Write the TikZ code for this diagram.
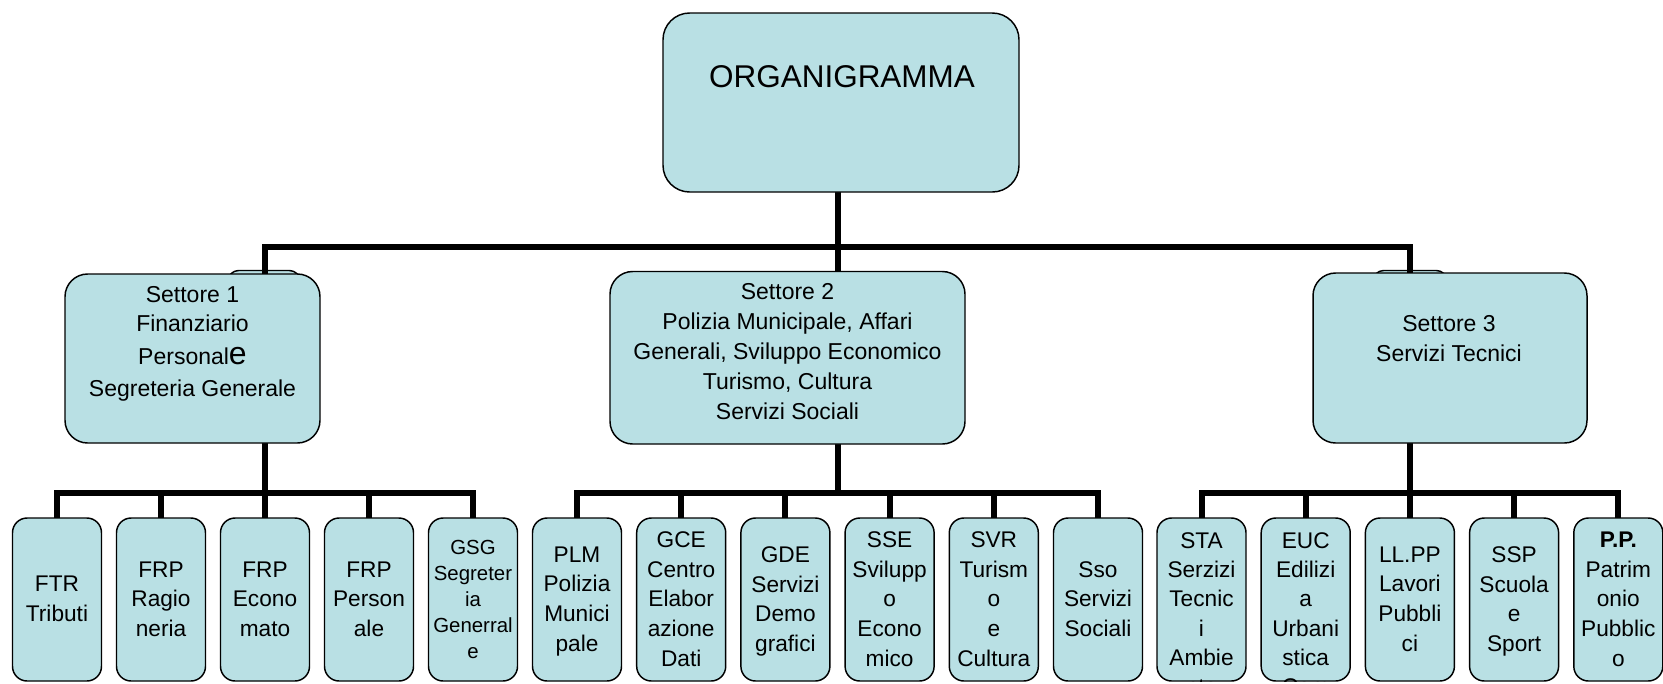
\documentclass[tikz,border=0pt]{standalone}
\usepackage{fontspec}
\setmainfont{Liberation Sans}
\usetikzlibrary{backgrounds}
\definecolor{boxfill}{RGB}{185,224,228}
\newcommand{\PX}{0.75pt}
\begin{document}
\begin{tikzpicture}[x=0.75pt,y=-0.75pt,
  basebox/.style={draw=black, line width=1.1pt, fill=boxfill, inner sep=0pt, outer sep=0pt},
  topbox/.style={basebox, rounded corners=20pt},
  secbox/.style={basebox, rounded corners=17pt},
  unitbox/.style={basebox, rounded corners=11pt, minimum width=89*\PX, minimum height=163*\PX},
  utxt/.style={inner sep=0pt, align=center, font=\fontsize{17}{22.3}\selectfont,
    execute at end node=\strut, yshift=-3pt},
  usmall/.style={utxt, font=\fontsize{15.3}{19.5}\selectfont, yshift=0pt},
  cliptxt/.style={inner sep=0pt, align=center, font=\fontsize{17}{22}\selectfont},
  sectxt/.style={inner sep=0pt, align=center, font=\fontsize{17.25}{22}\selectfont,
    execute at end node=\strut},
  tab/.style={draw=black, line width=1.1pt, fill=boxfill, rounded corners=8pt},
  conn/.style={draw=black, line width=4.5pt, line cap=butt, line join=miter}
]
\useasboundingbox (0,0) rectangle (1663,683);

% top
\node[topbox, minimum width=356*\PX, minimum height=179*\PX] (org) at (841,102.5) {};
\node[inner sep=0pt, font=\fontsize{23.6}{28}\selectfont] (orgt) at (842,76.5) {ORGANIGRAMMA};

% sectors
\node[secbox, minimum width=255*\PX, minimum height=169*\PX] (s1) at (192.5,358.5) {};
\node[sectxt] (s1t) at (192.5,346) {Settore 1\\Finanziario\\[3pt]Personal{\fontsize{24}{24}\selectfont e}\\[2pt]Segreteria Generale};
\node[secbox, minimum width=355*\PX, minimum height=172.5*\PX] (s2) at (787.5,357.75) {};
\node[sectxt, font=\fontsize{17.25}{22.5}\selectfont] (s2t) at (787.5,355.5) {Settore 2\\Polizia Municipale, Affari\\Generali, Sviluppo Economico\\Turismo, Cultura\\Servizi Sociali};
\node[secbox, minimum width=274*\PX, minimum height=170*\PX] (s3) at (1450,358) {};
\node[sectxt] (s3t) at (1449,343) {Settore 3\\Servizi Tecnici};

% units
\foreach \n/\x/\t in {
    a1/57/{FTR\\Tributi},
    a2/161/{FRP\\Ragio\\neria},
    a3/265/{FRP\\Econo\\mato},
    a4/369/{FRP\\Person\\ale},
    m1/577/{PLM\\Polizia\\Munici\\pale},
    m2/681.2/{GCE\\Centro\\Elabor\\azione\\Dati},
    m3/785.4/{GDE\\Servizi\\Demo\\grafici},
    m4/889.6/{SSE\\Svilupp\\o\\Econo\\mico},
    m5/993.8/{SVR\\Turism\\o\\e\\Cultura},
    m6/1098/{Sso\\Servizi\\Sociali},
    r3/1409.9/{LL.PP\\Lavori\\Pubbli\\ci},
    r4/1514.1/{SSP\\Scuola\\e\\Sport},
    r5/1618.3/{\textbf{P.P.}\\Patrim\\onio\\Pubblic\\o}}{
  \node[unitbox] (\n) at (\x,599.5) {};
  \node[utxt] (\n-t) at (\n.center) {\t};
}
\node[unitbox] (a5) at (473,599.5) {};
\node[usmall] (a5-t) at (a5.center) {GSG\\Segreter\\ia\\Generral\\e};

\node[unitbox] (r1) at (1201.5,599.5) {};
\node[unitbox] (r2) at (1305.7,599.5) {};
\begin{scope}
  \clip[rounded corners=11pt] (r1.south west) rectangle (r1.north east);
  \node[cliptxt, anchor=north] (r1-t) at (1201.5,532) {STA\\Serzizi\\Tecnic\\i\\Ambie\\nte};
\end{scope}
\begin{scope}
  \clip[rounded corners=11pt] (r2.south west) rectangle (r2.north east);
  \node[cliptxt, anchor=north] (r2-t) at (1305.7,532) {EUC\\Edilizi\\a\\Urbani\\stica\\Com};
\end{scope}

% junction coordinates
\coordinate (jT) at (838,247);
\coordinate (jL) at (265,247);
\coordinate (jR) at (1410,247);
\coordinate (bL) at (265,493);
\coordinate (bM) at (838,493);
\coordinate (bR) at (1410,493);

\begin{pgfonlayer}{background}
  % hidden boxes peeking above sector boxes
  \draw[tab] (228,270.5) rectangle (300,300);
  \draw[tab] (1373,270.5) rectangle (1447,300);
  % top level
  \draw[conn] (jT |- org.center) -- (jT |- s2.center);
  \draw[conn] (jL |- s1.center) -- (jL) -- (jR) -- (jR |- s3.center);
  % sector 1
  \draw[conn] (bL |- s1.center) -- (bL);
  \draw[conn] (a1.center) -- (a1.center |- bL) -- (a5.center |- bL) -- (a5.center);
  \foreach \n in {a2,a3,a4} \draw[conn] (\n.center) -- (\n.center |- bL);
  % sector 2
  \draw[conn] (bM |- s2.center) -- (bM);
  \draw[conn] (m1.center) -- (m1.center |- bM) -- (m6.center |- bM) -- (m6.center);
  \foreach \n in {m2,m3,m4,m5} \draw[conn] (\n.center) -- (\n.center |- bM);
  % sector 3
  \draw[conn] (bR |- s3.center) -- (bR);
  \draw[conn] (r1.center) -- (r1.center |- bR) -- (r5.center |- bR) -- (r5.center);
  \foreach \n in {r2,r3,r4} \draw[conn] (\n.center) -- (\n.center |- bR);
\end{pgfonlayer}
\end{tikzpicture}
\end{document}
